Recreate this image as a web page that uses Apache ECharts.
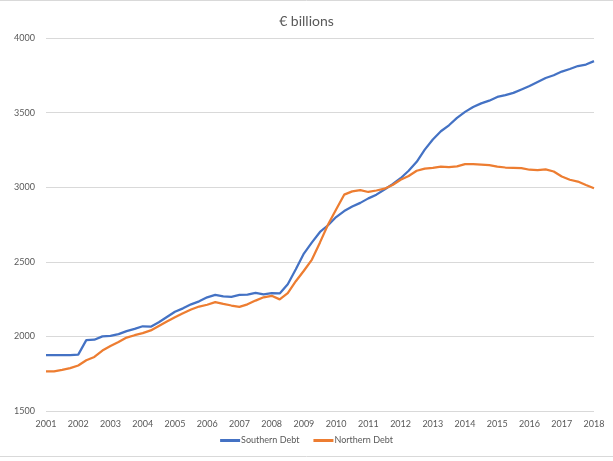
<!DOCTYPE html>
<html>
<head>
<meta charset="utf-8">
<script src="https://cdn.jsdelivr.net/npm/echarts@6/dist/echarts.min.js"></script>
<style>
  html, body { margin: 0; padding: 0; background: #fff; }
  #chart { width: 613px; height: 461px; }
</style>
</head>
<body>
<div id="chart"></div>
<script>
// quarterly data, 2001 Q1 .. 2018 Q1
const years = ['2001', '2002', '2003', '2004', '2005', '2006', '2007', '2008', '2009',
  '2010', '2011', '2012', '2013', '2014', '2015', '2016', '2017', '2018']

const southernDebt = [
  1875, 1875, 1875, 1875, 1878, 1975, 1978, 2000,
  2003, 2015, 2035, 2050, 2068, 2065, 2095, 2130,
  2165, 2188, 2215, 2235, 2262, 2278, 2268, 2265,
  2278, 2280, 2292, 2282, 2290, 2288, 2350, 2450,
  2555, 2630, 2700, 2745, 2800, 2840, 2870, 2895,
  2925, 2950, 2985, 3020, 3060, 3110, 3170, 3252,
  3320, 3375, 3415, 3465, 3505, 3538, 3562, 3580,
  3605, 3617, 3632, 3655, 3678, 3705, 3732, 3750,
  3775, 3792, 3812, 3822, 3845
]

const northernDebt = [
  1765, 1765, 1775, 1787, 1805, 1840, 1862, 1905,
  1935, 1962, 1992, 2008, 2022, 2040, 2070, 2100,
  2128, 2155, 2180, 2200, 2212, 2230, 2218, 2207,
  2198, 2215, 2240, 2262, 2272, 2248, 2290, 2370,
  2440, 2515, 2630, 2750, 2850, 2950, 2972, 2980,
  2968, 2978, 2990, 3015, 3050, 3075, 3110, 3125,
  3130, 3138, 3135, 3140, 3155, 3155, 3152, 3148,
  3138, 3132, 3130, 3128, 3117, 3115, 3120, 3105,
  3072, 3050, 3038, 3015, 2993
]

const categories = []
years.forEach((y, i) => {
  const qs = i === years.length - 1 ? ['Q1'] : ['Q1', 'Q2', 'Q3', 'Q4']
  qs.forEach(q => categories.push(y + ' ' + q))
})

const textColor = '#595959'
const font = 'Lato, "Liberation Sans", sans-serif'

const chart = echarts.init(document.getElementById('chart'))
chart.setOption({
  animation: false,
  textStyle: { fontFamily: font },
  title: {
    text: '€ billions',
    left: 'center',
    top: 9,
    textStyle: { color: textColor, fontSize: 14, fontWeight: 'normal', fontFamily: font }
  },
  legend: {
    bottom: 11,
    left: 'center',
    itemWidth: 20,
    itemHeight: 3,
    itemGap: 14,
    icon: 'rect',
    textStyle: { color: textColor, fontSize: 9, fontFamily: font, padding: [0, 0, 0, -4] },
    data: ['Southern Debt', 'Northern Debt']
  },
  grid: { left: 46, right: 19, top: 38, bottom: 50 },
  xAxis: {
    type: 'category',
    boundaryGap: false,
    data: categories,
    axisLine: { show: false },
    axisTick: { show: false },
    axisLabel: {
      interval: 3,
      color: textColor,
      fontSize: 9,
      margin: 9,
      formatter: v => v.slice(0, 4)
    }
  },
  yAxis: {
    type: 'value',
    min: 1500,
    max: 4000,
    interval: 500,
    axisLine: { show: false },
    axisTick: { show: false },
    axisLabel: { color: textColor, fontSize: 9, margin: 11, formatter: v => String(v) },
    splitLine: { lineStyle: { color: '#d9d9d9', width: 1 } }
  },
  series: [
    {
      name: 'Southern Debt',
      type: 'line',
      data: southernDebt,
      showSymbol: false,
      lineStyle: { color: '#4472C4', width: 2.25 },
      itemStyle: { color: '#4472C4' }
    },
    {
      name: 'Northern Debt',
      type: 'line',
      data: northernDebt,
      showSymbol: false,
      lineStyle: { color: '#ED7D31', width: 2.25 },
      itemStyle: { color: '#ED7D31' }
    }
  ],
  graphic: [
    { type: 'line', shape: { x1: 0, y1: 0.5, x2: 613, y2: 0.5 }, style: { stroke: '#d9d9d9', lineWidth: 1 } },
    { type: 'line', shape: { x1: 0, y1: 456.5, x2: 613, y2: 456.5 }, style: { stroke: '#d9d9d9', lineWidth: 1 } }
  ]
})
</script>
</body>
</html>
